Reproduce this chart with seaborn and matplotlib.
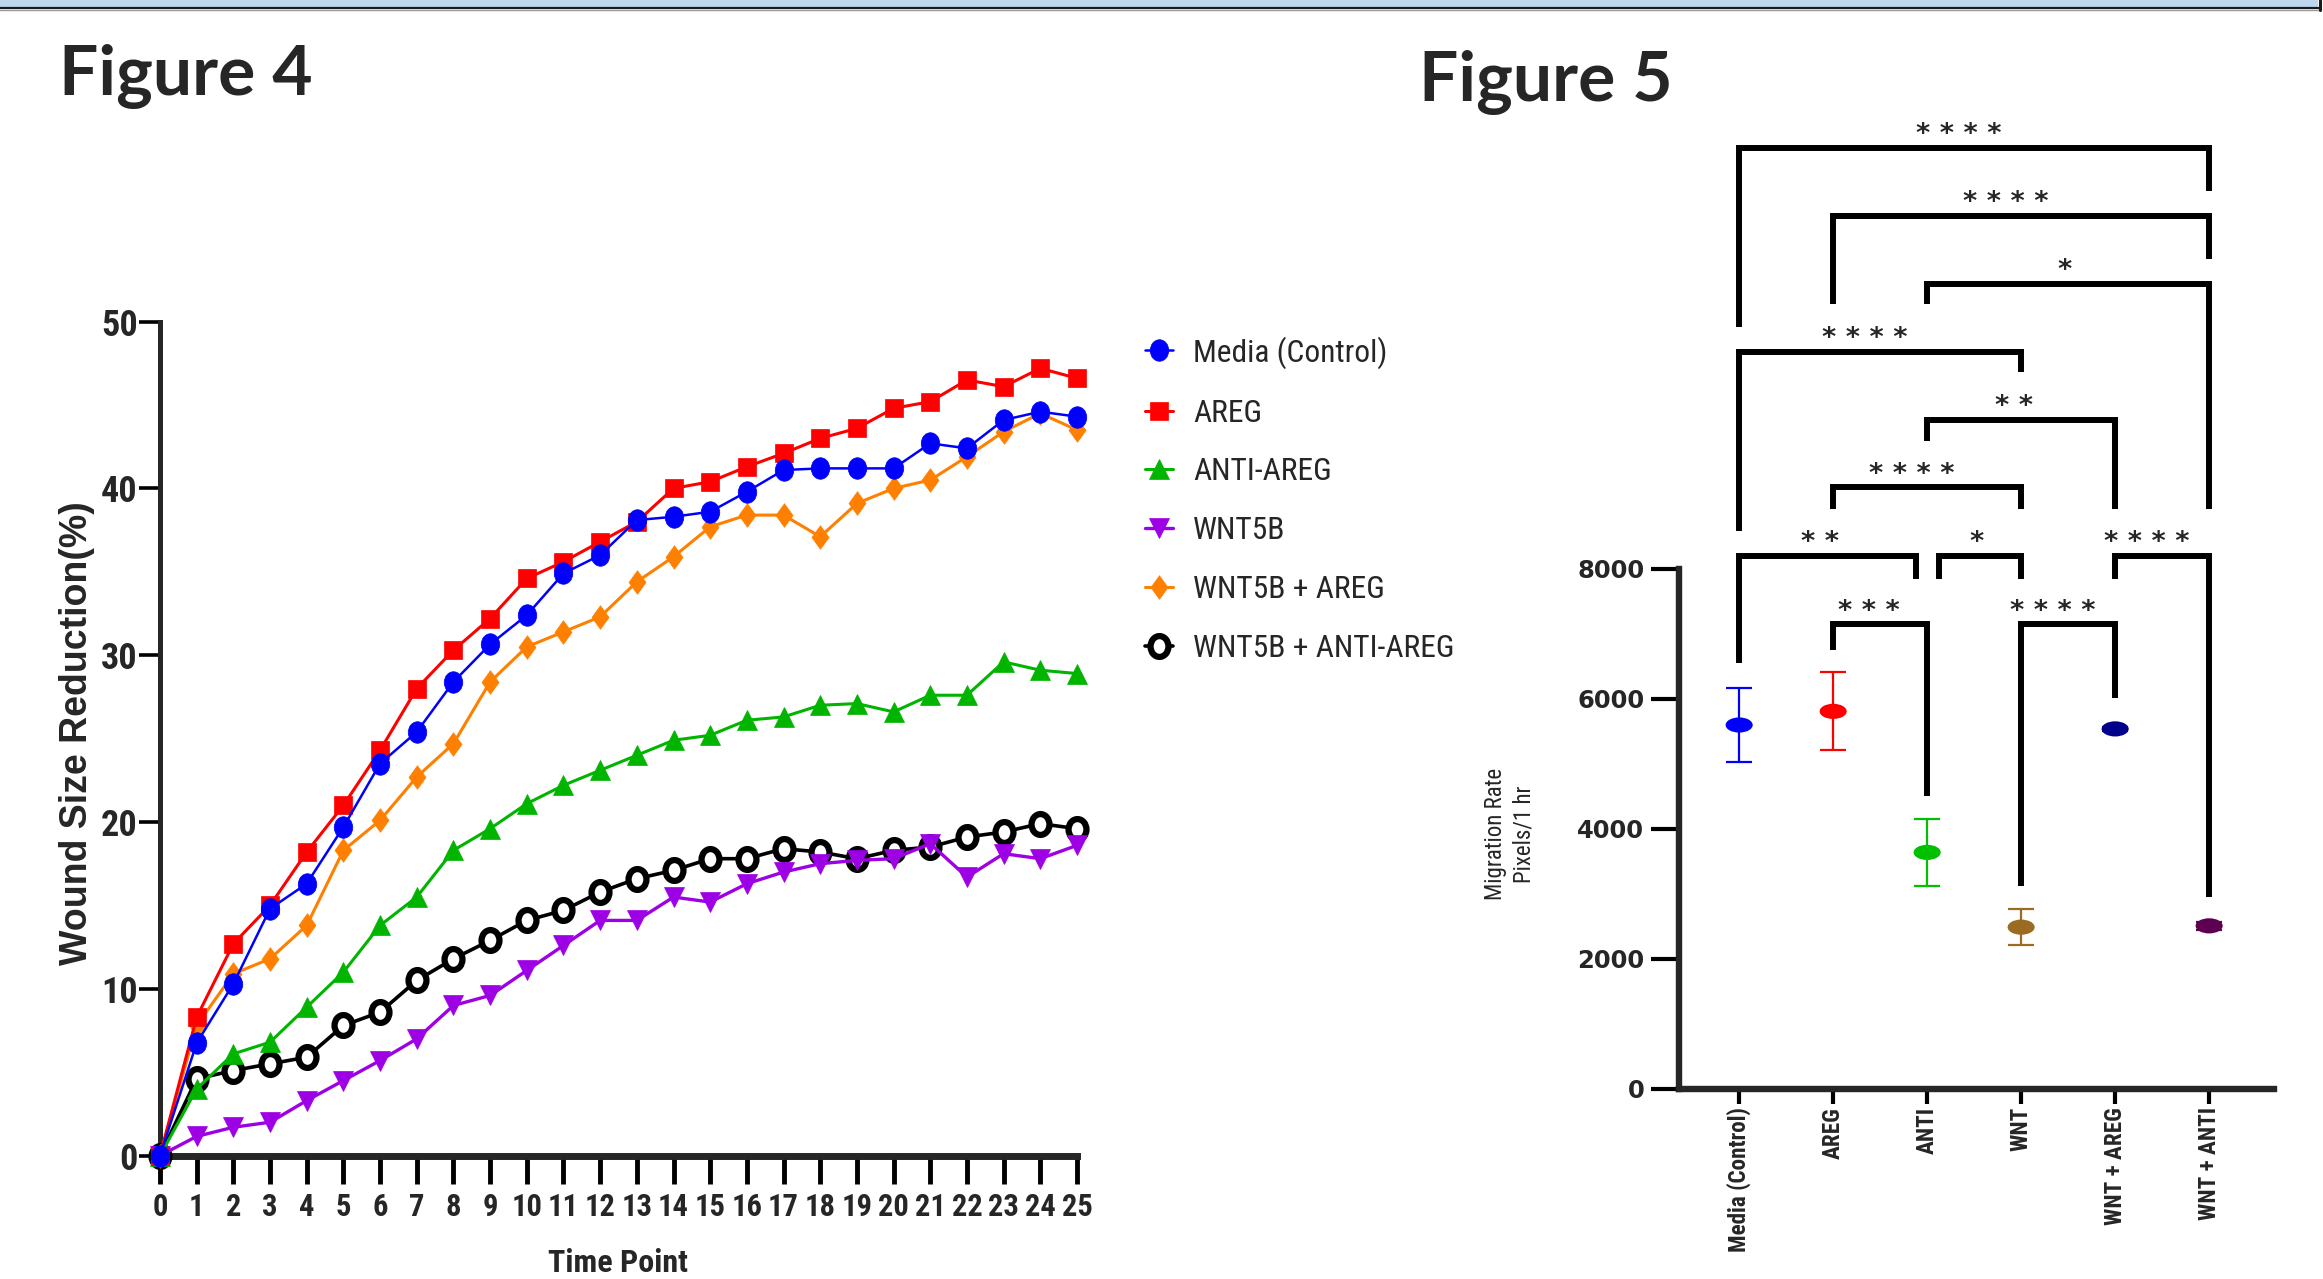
import numpy as np
import matplotlib
matplotlib.use("Agg")
import matplotlib.pyplot as plt
from matplotlib import font_manager as fm
from matplotlib.path import Path
from matplotlib.patches import Rectangle
from matplotlib.lines import Line2D
import seaborn as sns

# ---------------- Figure 4 data ----------------
time_points = list(range(26))
media_control = [0, 6.75, 10.3, 14.8, 16.3, 19.7, 23.5, 25.4, 28.4, 30.65, 32.4, 34.9, 36.0,
                 38.1, 38.3, 38.6, 39.8, 41.1, 41.2, 41.2, 41.2, 42.7, 42.4, 44.1, 44.6, 44.3]
areg = [0, 8.3, 12.7, 15.0, 18.2, 21.0, 24.3, 28.0, 30.3, 32.2, 34.6, 35.6, 36.8,
        38.0, 40.0, 40.4, 41.3, 42.1, 43.0, 43.6, 44.8, 45.2, 46.5, 46.1, 47.2, 46.6]
anti_areg = [0, 4.0, 6.1, 6.8, 8.9, 11.0, 13.8, 15.5, 18.3, 19.6, 21.1, 22.2, 23.1,
             24.0, 24.9, 25.2, 26.1, 26.3, 27.0, 27.1, 26.6, 27.6, 27.6, 29.6, 29.1, 28.9]
wnt5b = [0, 1.15, 1.7, 2.0, 3.3, 4.5, 5.7, 7.0, 9.0, 9.6, 11.1, 12.6, 14.1,
         14.1, 15.5, 15.2, 16.3, 17.0, 17.5, 17.7, 17.8, 18.7, 16.7, 18.1, 17.8, 18.6]
wnt5b_areg = [0, 7.8, 10.9, 11.8, 13.8, 18.3, 20.1, 22.7, 24.7, 28.4, 30.5, 31.4, 32.3,
              34.4, 35.9, 37.7, 38.4, 38.4, 37.1, 39.1, 40.0, 40.5, 41.9, 43.4, 44.5, 43.5]
wnt5b_anti_areg = [0, 4.6, 5.1, 5.5, 5.9, 7.8, 8.6, 10.5, 11.8, 12.9, 14.1, 14.7, 15.8,
                   16.6, 17.1, 17.8, 17.8, 18.4, 18.2, 17.8, 18.3, 18.5, 19.1, 19.4, 19.9, 19.6]
series_names = ["Media (Control)", "AREG", "ANTI-AREG", "WNT5B", "WNT5B + AREG", "WNT5B + ANTI-AREG"]
y_ticks_fig4 = [0, 10, 20, 30, 40, 50]

# ---------------- Figure 5 data ----------------
groups = ["Media (Control)", "AREG", "ANTI", "WNT", "WNT + AREG", "WNT + ANTI"]
migration_mean = [5600, 5810, 3640, 2490, 5540, 2510]
migration_err = [570, 600, 510, 280, 25, 60]
group_colors = ["#0000FF", "#FF0000", "#00C000", "#9C6B22", "#00008B", "#5E0050"]
y_ticks_fig5 = [0, 2000, 4000, 6000, 8000]
# significance brackets: (group a, group b, level, left leg end, right leg end, label)
sig_a = [0, 1, 2, 0, 2, 1, 0, 2, 4, 1, 3]
sig_b = [5, 5, 5, 3, 4, 3, 2, 3, 5, 2, 4]
sig_level = [14480, 13435, 12390, 11345, 10300, 9255, 8200, 8200, 8200, 7150, 7150]
sig_left_end = [11723, 12077, 12077, 8591, 9974, 8923, 6560, 7850, 7850, 6753, 3117]
sig_right_end = [13815, 12775, 8923, 11025, 8923, 8923, 7850, 7850, 2954, 4512, 6011]
sig_label = ["****", "****", "*", "****", "**", "****", "**", "*", "****", "***", "****"]
sig_a_shift = [0, 0, 0, 0, 0, 0, 0, 0.13, 0, 0, 0]
sig_b_shift = [0, 0, 0, 0, 0, 0, -0.12, 0, 0, 0, 0]

# ---------------- fonts ----------------
def font_ok(name):
    try:
        fm.findfont(fm.FontProperties(family=name), fallback_to_default=False)
        return True
    except Exception:
        return False

NARROW = "Liberation Sans"
NS = 0.84
for cand in ["Roboto Condensed", "Liberation Sans Narrow", "Archivo Narrow", "PT Sans Narrow"]:
    if font_ok(cand):
        NARROW = cand
        NS = 1.0
        break
TITLE_FONT = "Lato" if font_ok("Lato") else "DejaVu Sans"

sns.set_theme(style="ticks")
plt.rcParams["font.family"] = ["Liberation Sans", "DejaVu Sans"]

W, H = 2323, 1279
fig = plt.figure(figsize=(W / 100, H / 100), dpi=100)
fig.patch.set_facecolor("white")

def fx(px):
    return px / W

def fy(py):
    return 1 - py / H

# ---------------- top banner ----------------
fig.add_artist(Rectangle((0, fy(7.5)), fx(2318), 7.5 / H, transform=fig.transFigure,
                         facecolor="#BDD7EE", edgecolor="none"))
fig.add_artist(Line2D([0, fx(2320)], [fy(8.3), fy(8.3)], transform=fig.transFigure,
                      color="#1a1a1a", lw=1.6))
fig.add_artist(Line2D([0, fx(2320)], [fy(10), fy(10)], transform=fig.transFigure,
                      color="#9a9a9a", lw=1.0))
fig.add_artist(Line2D([fx(2319.5), fx(2319.5)], [fy(0), fy(10)], transform=fig.transFigure,
                      color="#1a1a1a", lw=2.2))

fig.text(fx(59), fy(95), "Figure 4", fontsize=50, fontweight="bold", family=TITLE_FONT,
         ha="left", va="baseline")
fig.text(fx(1419), fy(101), "Figure 5", fontsize=50, fontweight="bold", family=TITLE_FONT,
         ha="left", va="baseline")

# ---------------- marker shapes ----------------
uc = Path.unit_circle()
tall_ellipse = Path(uc.vertices * np.array([0.86, 1.0]), uc.codes)
wide_ellipse = Path(uc.vertices * np.array([1.0, 0.56]), uc.codes)
diamond = Path([(0, 1), (0.72, 0), (0, -1), (-0.72, 0), (0, 1)],
               [Path.MOVETO, Path.LINETO, Path.LINETO, Path.LINETO, Path.CLOSEPOLY])

# ---------------- Figure 4 (line chart) ----------------
ax = fig.add_axes([fx(160), fy(1155.6), fx(917), 834 / H])
styles = {
    "Media (Control)": dict(values=media_control, color="#0000FF", marker=tall_ellipse, ms=15.5, lw=1.8,
                            z=9, mfc="#0000FF", mec="#0000FF", mew=0.5),
    "AREG": dict(values=areg, color="#FF0000", marker="s", ms=13.5, lw=2.2, z=8,
                 mfc="#FF0000", mec="#FF0000", mew=0.5),
    "ANTI-AREG": dict(values=anti_areg, color="#00B400", marker="^", ms=15, lw=2.2, z=6,
                      mfc="#00B400", mec="#00B400", mew=0.5),
    "WNT5B": dict(values=wnt5b, color="#9E00E6", marker="v", ms=15, lw=2.4, z=5,
                  mfc="#9E00E6", mec="#9E00E6", mew=0.5),
    "WNT5B + AREG": dict(values=wnt5b_areg, color="#FF8000", marker=diamond, ms=17, lw=2.2, z=4,
                         mfc="#FF8000", mec="#FF8000", mew=0.5),
    "WNT5B + ANTI-AREG": dict(values=wnt5b_anti_areg, color="#000000", marker=tall_ellipse, ms=15,
                              lw=2.6, z=3, mfc="white", mec="#000000", mew=4.5),
}
draw_order = ["WNT5B + ANTI-AREG", "WNT5B + AREG", "WNT5B", "ANTI-AREG", "AREG", "Media (Control)"]
handles = {}
for name in draw_order:
    st = styles[name]
    sns.lineplot(x=time_points, y=st["values"], ax=ax, color=st["color"], marker=st["marker"],
                 markersize=st["ms"], linewidth=st["lw"], markerfacecolor=st["mfc"],
                 markeredgecolor=st["mec"], markeredgewidth=st["mew"], clip_on=False,
                 zorder=st["z"], label=name, legend=False)
    handles[name] = ax.lines[-1]

ax.set_xlim(0, 25)
ax.set_ylim(0, 50)
ax.set_xticks(time_points)
ax.set_xticklabels([str(t) for t in time_points], family=NARROW, fontweight="bold",
                   fontsize=22 * NS)
ax.set_yticks(y_ticks_fig4)
ax.set_yticklabels([str(v) for v in y_ticks_fig4], family=NARROW, fontweight="bold",
                   fontsize=26 * NS)
for s in ["top", "right"]:
    ax.spines[s].set_visible(False)
ax.spines["left"].set_linewidth(3.6)
ax.spines["bottom"].set_linewidth(5)
ax.spines["left"].set_zorder(1)
ax.spines["bottom"].set_zorder(1)
ax.tick_params(axis="y", length=15, width=2.6, pad=1, color="black")
ax.tick_params(axis="x", length=20, width=3.5, pad=6, color="black")
ax.set_facecolor("none")
ax.set_xlabel("Time Point", family=NARROW, fontweight="bold", fontsize=23 * NS)
ax.xaxis.set_label_coords(0.5, (1155.6 - 1263) / 834)
ax.xaxis.label.set_va("center")
ax.set_ylabel("Wound Size Reduction(%)", family="Liberation Sans", fontweight="bold", fontsize=27)
ax.yaxis.set_label_coords((77 - 160) / 917, (1155.6 - 733) / 834)
ax.yaxis.label.set_va("center")

ax.legend([handles[n] for n in series_names], series_names, loc="upper left",
          bbox_to_anchor=(fx(1145), fy(336)), bbox_transform=fig.transFigure, frameon=False,
          prop=fm.FontProperties(family=NARROW, size=22.7 * NS), handlelength=0.9,
          handletextpad=0.62, labelspacing=0.95, borderpad=0, borderaxespad=0)

# ---------------- Figure 5 (mean + error) ----------------
ax2 = fig.add_axes([fx(1679), fy(1089), fx(595), 1040 / H])
positions = list(range(len(groups)))
for p, m, e, c in zip(positions, migration_mean, migration_err, group_colors):
    ax2.errorbar([p], [m], yerr=[e], fmt="none", ecolor=c, elinewidth=1.6, capsize=9.5,
                 capthick=1.6, zorder=3, clip_on=False)
sns.scatterplot(x=positions, y=migration_mean, hue=groups, palette=group_colors, marker=wide_ellipse,
                s=19.5 ** 2, linewidth=0, legend=False, ax=ax2, zorder=4, clip_on=False)

ax2.set_xlim(-0.64, 5.69)
ax2.set_ylim(0, 16000)
ax2.set_xticks(positions)
ax2.set_xticklabels(groups, rotation=90, family=NARROW, fontweight="bold", fontsize=16.7 * NS,
                    va="top", ha="center")
ax2.set_yticks(y_ticks_fig5)
ax2.set_yticklabels([str(v) for v in y_ticks_fig5], family="DejaVu Sans", fontweight="bold",
                    fontsize=17.5)
for s in ["top", "right"]:
    ax2.spines[s].set_visible(False)
ax2.spines["left"].set_bounds(0, 8000)
ax2.spines["left"].set_linewidth(4.6)
ax2.spines["bottom"].set_linewidth(4.6)
ax2.tick_params(axis="y", length=20, width=3, pad=5, color="black")
ax2.tick_params(axis="x", length=11, width=3, pad=2, color="black")
ax2.set_facecolor("none")

for a, b, lv, le, re, lab, sa, sb in zip(sig_a, sig_b, sig_level, sig_left_end, sig_right_end,
                                         sig_label, sig_a_shift, sig_b_shift):
    xa, xb = a + sa, b + sb
    ax2.plot([xa, xa, xb, xb], [le, lv, lv, re], color="black", lw=4.3, solid_joinstyle="miter",
             solid_capstyle="butt", clip_on=False, zorder=2)
    ax2.annotate(" ".join(lab), xy=((xa + xb) / 2, lv), xytext=(-2.7 * len(lab), 4.0),
                 textcoords="offset points", ha="center", va="baseline", fontsize=19.5,
                 fontweight="bold", family="DejaVu Sans", annotation_clip=False)

fig.text(fx(1510), fy(834), "Migration Rate\nPixels/1 hr", rotation=90, ha="center", va="center",
         family=NARROW, fontsize=16.5 * NS, linespacing=1.3, multialignment="center")

fig.savefig("out.png", dpi=100)
